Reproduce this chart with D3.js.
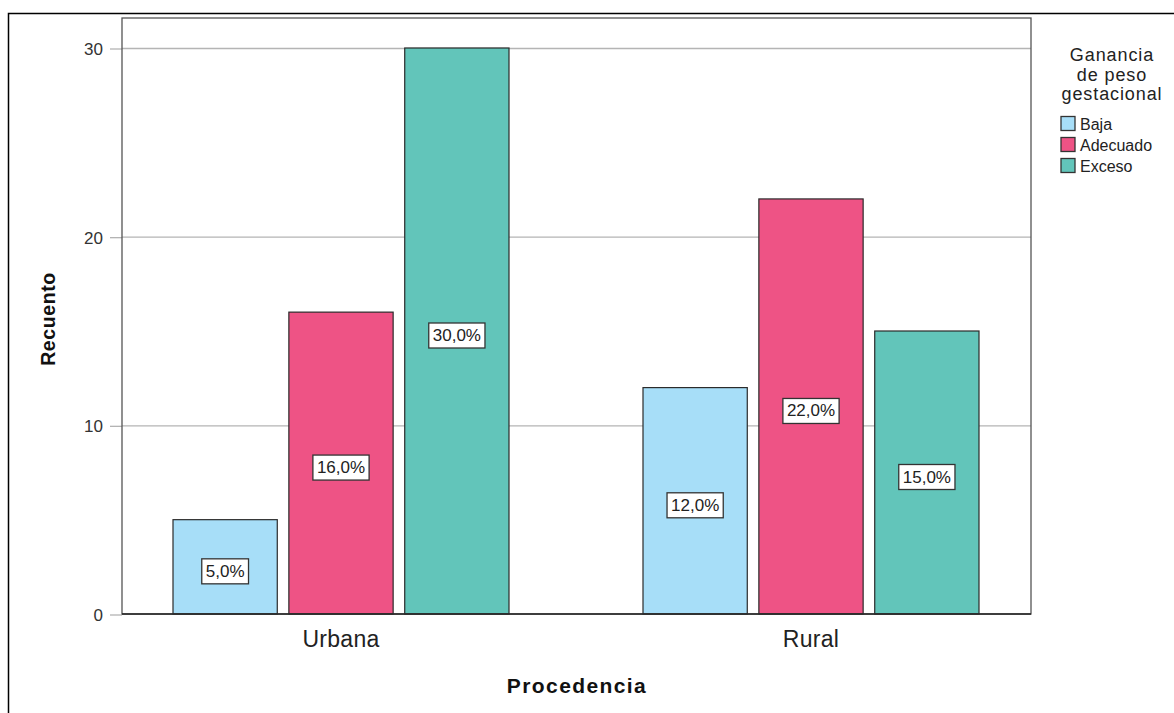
<!DOCTYPE html>
<html>
<head>
<meta charset="utf-8">
<script src="https://cdn.jsdelivr.net/npm/d3@7"></script>
<style>
  body { margin: 0; background: #fff; }
  text { font-family: "Liberation Sans", Arial, sans-serif; }
</style>
</head>
<body>
<svg id="chart" width="1174" height="713"></svg>
<script>
// Counts by place of origin and gestational weight gain
const categories = ["Urbana", "Rural"];
const series = ["Baja", "Adecuado", "Exceso"];
const valuesBaja = [5, 12];
const valuesAdecuado = [16, 22];
const valuesExceso = [30, 15];
const percentLabels = [["5,0%", "16,0%", "30,0%"], ["12,0%", "22,0%", "15,0%"]];
const yTicks = [0, 10, 20, 30];
const colors = ["#a7def8", "#ee5385", "#62c5ba"];

const values = [valuesBaja, valuesAdecuado, valuesExceso];
const svg = d3.select("#chart");

// outer frame
svg.append("rect").attr("x", 8.5).attr("y", 13.5).attr("width", 1180).attr("height", 720)
  .attr("fill", "none").attr("stroke", "#000").attr("stroke-width", 1.5);

const plot = { left: 122, right: 1031, top: 18, bottom: 614 };

const y = d3.scaleLinear().domain([0, 30]).range([plot.bottom, 48]);
const xGroup = d3.scalePoint().domain(categories).range([341, 811]);
const xSeries = d3.scaleBand().domain(series).range([-168, 168]).paddingInner(0.1);

// grid lines
svg.append("g").selectAll("line").data(yTicks.filter(d => d > 0)).join("line")
  .attr("x1", plot.left).attr("x2", plot.right)
  .attr("y1", d => y(d) + 0.5).attr("y2", d => y(d) + 0.5)
  .attr("stroke", "#b4b4b4").attr("stroke-width", 1.3);

// y axis
const yAxis = d3.axisLeft(y).tickValues(yTicks).tickSize(12).tickPadding(7).tickFormat(d3.format("d"));
const gy = svg.append("g").attr("transform", `translate(${plot.left},0.5)`).call(yAxis);
gy.select(".domain").remove();
gy.selectAll(".tick line").attr("stroke", "#b4b4b4").attr("stroke-width", 1.3);
gy.selectAll(".tick text").attr("font-size", 17).attr("fill", "#333").attr("dy", "0.36em")
  .attr("font-family", "'Liberation Sans', Arial, sans-serif");

// bars
const groups = svg.append("g").selectAll("g").data(categories).join("g")
  .attr("transform", d => `translate(${xGroup(d)},0)`);

groups.each(function(cat, ci) {
  const g = d3.select(this);
  series.forEach((s, si) => {
    const v = values[si][ci];
    g.append("rect")
      .attr("x", xSeries(s)).attr("y", y(v))
      .attr("width", xSeries.bandwidth()).attr("height", y(0) - y(v))
      .attr("fill", colors[si]).attr("stroke", "#2b2b2b").attr("stroke-width", 1.2);
  });
  series.forEach((s, si) => {
    const v = values[si][ci];
    const cx = xSeries(s) + xSeries.bandwidth() / 2;
    const cy = y(v / 2) + 4;
    const lbl = percentLabels[ci][si];
    const t = g.append("text").attr("x", cx).attr("y", cy + 6)
      .attr("text-anchor", "middle").attr("font-size", 17).attr("fill", "#222").text(lbl);
    const bb = t.node().getBBox();
    g.insert("rect", () => t.node())
      .attr("x", bb.x - 4).attr("y", cy - 12).attr("width", bb.width + 8).attr("height", 25)
      .attr("fill", "#fff").attr("stroke", "#333").attr("stroke-width", 1.3);
  });
});

// plot frame
svg.append("rect").attr("x", plot.left).attr("y", plot.top)
  .attr("width", plot.right - plot.left).attr("height", plot.bottom - plot.top)
  .attr("fill", "none").attr("stroke", "#555").attr("stroke-width", 1.3);
svg.append("line").attr("x1", plot.left).attr("x2", plot.right)
  .attr("y1", plot.bottom).attr("y2", plot.bottom).attr("stroke", "#222").attr("stroke-width", 1.5);

// x category labels
svg.append("g").selectAll("text").data(categories).join("text")
  .attr("x", d => xGroup(d)).attr("y", 647).attr("text-anchor", "middle")
  .attr("font-size", 23).attr("letter-spacing", 0.3).attr("fill", "#222").text(d => d);

// axis titles
svg.append("text").attr("x", 577).attr("y", 693).attr("text-anchor", "middle")
  .attr("font-size", 21).attr("letter-spacing", 1.4).attr("font-weight", "bold")
  .attr("fill", "#111").text("Procedencia");
svg.append("text").attr("transform", "translate(55,319) rotate(-90)").attr("text-anchor", "middle")
  .attr("font-size", 19.5).attr("letter-spacing", 0.6).attr("font-weight", "bold")
  .attr("fill", "#111").text("Recuento");

// legend
const legendTitle = ["Ganancia", "de peso", "gestacional"];
svg.append("g").selectAll("text").data(legendTitle).join("text")
  .attr("x", 1112).attr("y", (d, i) => 61 + i * 19.5).attr("text-anchor", "middle")
  .attr("font-size", 18).attr("letter-spacing", 0.9).attr("fill", "#222").text(d => d);
const leg = svg.append("g").selectAll("g").data(series).join("g")
  .attr("transform", (d, i) => `translate(1061,${116.5 + i * 21})`);
leg.append("rect").attr("width", 14).attr("height", 14)
  .attr("fill", (d, i) => colors[i]).attr("stroke", "#333").attr("stroke-width", 1.3);
leg.append("text").attr("x", 19).attr("y", 13).attr("font-size", 16).attr("fill", "#222").text(d => d);
</script>
</body>
</html>
